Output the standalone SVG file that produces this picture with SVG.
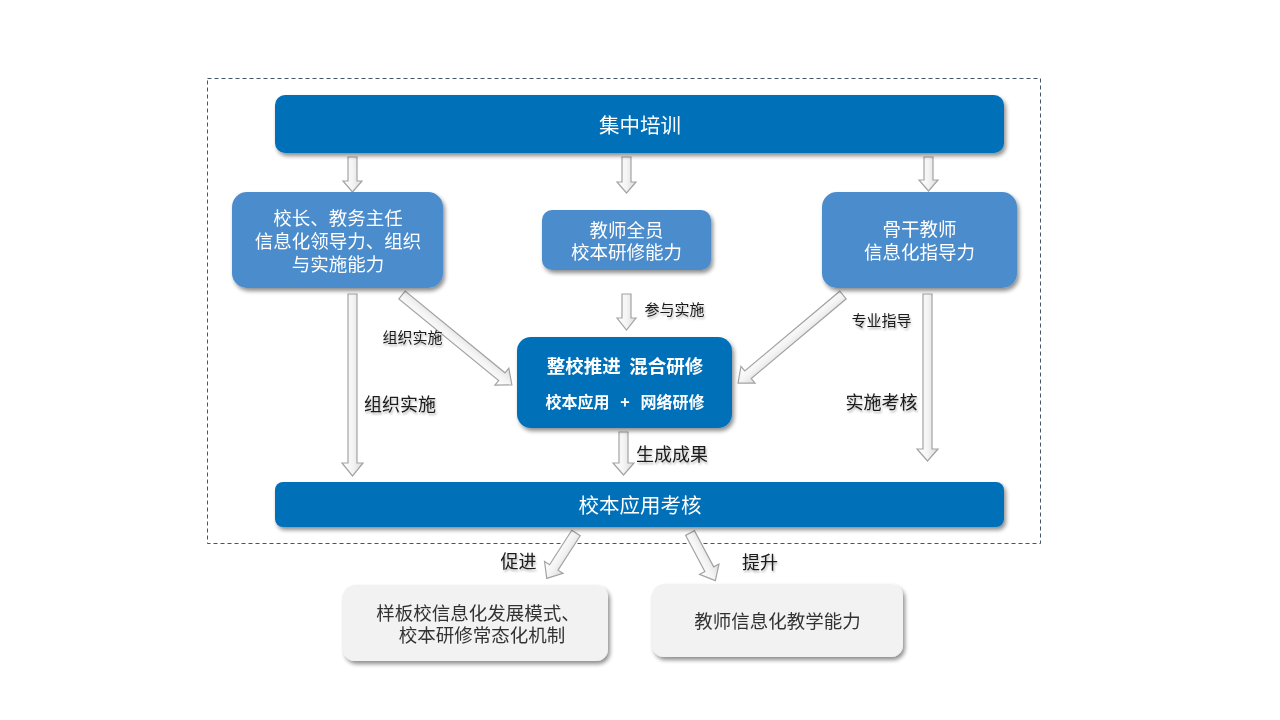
<svg xmlns="http://www.w3.org/2000/svg" width="1280" height="720" viewBox="0 0 1280 720">
<defs>
<filter id="sh" x="-10%" y="-10%" width="125%" height="135%">
<feGaussianBlur in="SourceAlpha" stdDeviation="2"/>
<feOffset dx="2" dy="3" result="b"/>
<feComponentTransfer><feFuncA type="linear" slope="0.45"/></feComponentTransfer>
<feMerge><feMergeNode/><feMergeNode in="SourceGraphic"/></feMerge>
</filter>
<filter id="tsh" x="-10%" y="-20%" width="130%" height="150%">
<feGaussianBlur in="SourceAlpha" stdDeviation="1"/>
<feOffset dx="1" dy="1.5" result="b"/>
<feComponentTransfer><feFuncA type="linear" slope="0.3"/></feComponentTransfer>
<feMerge><feMergeNode/><feMergeNode in="SourceGraphic"/></feMerge>
</filter>
<linearGradient id="ag" x1="0" y1="0" x2="1" y2="0">
<stop offset="0" stop-color="#ffffff"/>
<stop offset="0.5" stop-color="#f4f4f4"/>
<stop offset="1" stop-color="#dcdcdc"/>
</linearGradient>
</defs>
<style>
text{font-family:"Noto Sans CJK SC","Microsoft YaHei",sans-serif;text-anchor:middle;dominant-baseline:central}
.dark{fill:#0070b9}
.light{fill:#4b8ccc}
.grey{fill:#f2f2f2}
.w{fill:#ffffff}
.lbl{fill:#1a1a1a;filter:url(#tsh)}
.g{fill:#333333}
.arr{fill:url(#ag);stroke:#a3a3a3;stroke-width:1.2;stroke-linejoin:miter}
</style>
<rect width="1280" height="720" fill="#ffffff"/>
<rect x="207.5" y="78.5" width="833" height="465" fill="none" stroke="#44546a" stroke-width="1" stroke-dasharray="4,3"/>

<g id="connectors">
<polygon class="arr" points="348,157 357,157 357,181 362,181 352.5,192 343,181 348,181"/>
<polygon class="arr" points="622,157 631,157 631,182 636,182 626.5,193 617,182 622,182"/>
<polygon class="arr" points="924,157 933,157 933,180 938,180 928.5,191 919,180 924,180"/>
<polygon class="arr" points="348,294 357,294 357,463 363,463 352.5,476 342,463 348,463"/>
<polygon class="arr" points="622,294 631,294 631,318 636,318 626.5,330 617,318 622,318"/>
<polygon class="arr" points="923,294 932,294 932,449 938,449 927.5,461 917,449 923,449"/>
<polygon class="arr" points="619,432 628,432 628,463 634,463 623.5,475 613,463 619,463"/>
<polygon class="arr" transform="translate(402,295) rotate(-50.7)" points="-5,0 5,0 5,129 11,129 0,142 -11,129 -5,129"/>
<polygon class="arr" transform="translate(843,295) rotate(50)" points="-5,0 5,0 5,124 11,124 0,137 -11,124 -5,124"/>
<polygon class="arr" transform="translate(576,533) rotate(32.8)" points="-5,0 5,0 5,41 11,41 0,54 -11,41 -5,41"/>
<polygon class="arr" transform="translate(690,533) rotate(-28)" points="-5,0 5,0 5,41 11,41 0,54 -11,41 -5,41"/>

<text class="lbl" x="400" y="403" font-size="18">组织实施</text>
<text class="lbl" x="412.5" y="336" font-size="15">组织实施</text>
<text class="lbl" x="674.5" y="308" font-size="15">参与实施</text>
<text class="lbl" x="881.5" y="319" font-size="15">专业指导</text>
<text class="lbl" x="881.5" y="401" font-size="18">实施考核</text>
<text class="lbl" x="672" y="453" font-size="18">生成成果</text>
<text class="lbl" x="518.5" y="560" font-size="18">促进</text>
<text class="lbl" x="760" y="561" font-size="18">提升</text>
</g>

<g id="top" filter="url(#sh)">
<rect class="dark" x="275" y="95" width="729" height="58" rx="10"/>
<text class="w" x="640" y="124" font-size="20.5">集中培训</text>
</g>

<g id="leaders" filter="url(#sh)">
<rect class="light" x="232" y="192" width="211" height="96" rx="15"/>
<text class="w" font-size="18.5"><tspan x="338" y="217">校长、教务主任</tspan><tspan x="338" y="240">信息化领导力、组织</tspan><tspan x="338" y="263">与实施能力</tspan></text>
</g>

<g id="teachers" filter="url(#sh)">
<rect class="light" x="542" y="210" width="169" height="60" rx="10"/>
<text class="w" font-size="18.5"><tspan x="626.5" y="229">教师全员</tspan><tspan x="626.5" y="251">校本研修能力</tspan></text>
</g>

<g id="backbone" filter="url(#sh)">
<rect class="light" x="822" y="192" width="195" height="96" rx="15"/>
<text class="w" font-size="18.5"><tspan x="919.5" y="228">骨干教师</tspan><tspan x="919.5" y="251">信息化指导力</tspan></text>
</g>

<g id="center" filter="url(#sh)">
<rect class="dark" x="517" y="337" width="215" height="91" rx="14"/>
<text class="w" font-weight="bold" xml:space="preserve"><tspan x="625" y="365" font-size="18.5">整校推进  混合研修</tspan><tspan x="625" y="401" font-size="16">校本应用   +   网络研修</tspan></text>
</g>

<g id="assess" filter="url(#sh)">
<rect class="dark" x="275" y="482" width="729" height="45" rx="8"/>
<text class="w" x="640" y="504" font-size="20.5">校本应用考核</text>
</g>

<g id="model" filter="url(#sh)">
<rect class="grey" x="343" y="585" width="265" height="76" rx="12"/>
<text class="g" font-size="18.5"><tspan x="478" y="612">样板校信息化发展模式、</tspan><tspan x="482" y="634">校本研修常态化机制</tspan></text>
</g>

<g id="ability" filter="url(#sh)">
<rect class="grey" x="652" y="584" width="251" height="73" rx="12"/>
<text class="g" x="777.5" y="620" font-size="18.5">教师信息化教学能力</text>
</g>
</svg>
